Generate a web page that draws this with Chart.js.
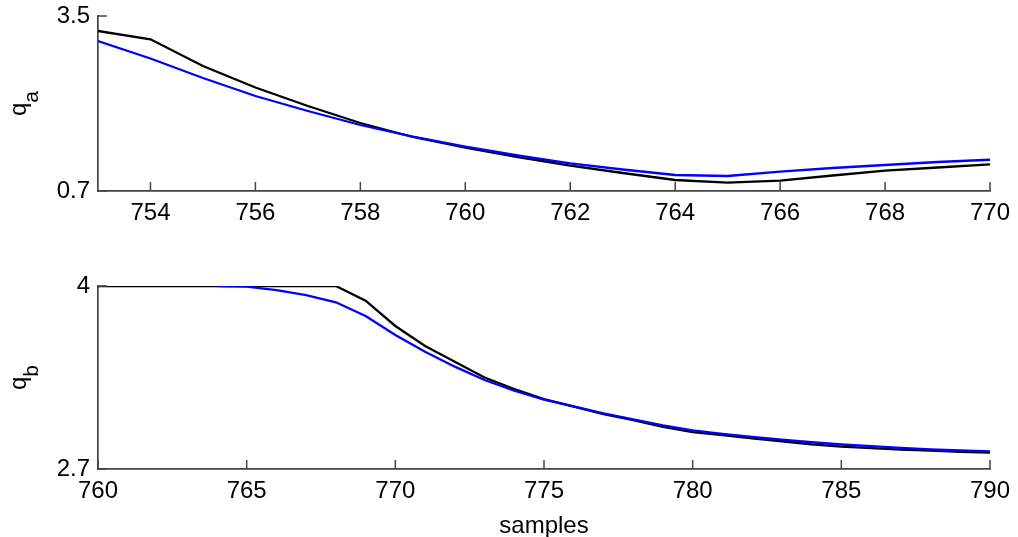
<!DOCTYPE html>
<html>
<head>
<meta charset="utf-8">
<script src="https://cdn.jsdelivr.net/npm/chart.js@4"></script>
<style>
  body { margin: 0; background: #fff; }
  .box { position: absolute; left: 0; width: 1018px; }
  #topBox { top: 0; height: 240px; }
  #botBox { top: 270px; height: 267px; }
</style>
</head>
<body>
<div class="box" id="topBox"><canvas id="topChart"></canvas></div>
<div class="box" id="botBox"><canvas id="botChart"></canvas></div>
<script>
// upper panel: q_a
var topSamples = [753, 754, 755, 756, 757, 758, 759, 760, 761, 762, 763, 764, 765, 766, 767, 768, 769, 770];
var topBlack = [3.26, 3.127, 2.70, 2.356, 2.06, 1.788, 1.564, 1.393, 1.244, 1.105, 0.988, 0.876, 0.833, 0.865, 0.948, 1.025, 1.076, 1.127];
var topBlue = [3.10, 2.82, 2.508, 2.22, 1.98, 1.756, 1.569, 1.409, 1.268, 1.143, 1.044, 0.956, 0.94, 1.009, 1.068, 1.116, 1.164, 1.20];
var topXTicks = [754, 756, 758, 760, 762, 764, 766, 768, 770];
var topYTicks = [0.7, 3.5];

// lower panel: q_b
var botSamples = [760, 761, 762, 763, 764, 765, 766, 767, 768, 769, 770, 771, 772, 773, 774, 775,
  776, 777, 778, 779, 780, 781, 782, 783, 784, 785, 786, 787, 788, 789, 790];
var botBlack = [4, 4, 4, 4, 4, 4, 4, 4, 4, 3.896, 3.716, 3.574, 3.462, 3.35, 3.268, 3.197,
  3.143, 3.09, 3.048, 3.0, 2.962, 2.94, 2.918, 2.897, 2.875, 2.859, 2.848, 2.838, 2.83, 2.822, 2.816];
var botBlue = [null, null, null, null, 4, 3.995, 3.97, 3.936, 3.884, 3.787, 3.652, 3.533, 3.427, 3.332, 3.256, 3.193,
  3.145, 3.095, 3.053, 3.01, 2.975, 2.95, 2.928, 2.908, 2.89, 2.874, 2.862, 2.85, 2.84, 2.832, 2.825];
var botXTicks = [760, 765, 770, 775, 780, 785, 790];
var botYTicks = [2.7, 4];

var FONT = 'Liberation Sans, Arial, Helvetica, sans-serif';
var AXIS = '#444444';

function pts(xs, ys) {
  return xs.map(function(x, i) { return { x: x, y: ys[i] }; });
}

function fixedTicks(list) {
  return function(scale) {
    scale.ticks = list.map(function(v) { return { value: v }; });
  };
}

function noPad(scale) {
  scale.paddingTop = 0;
  scale.paddingBottom = 0;
  scale.paddingLeft = 0;
  scale.paddingRight = 0;
}

// inward tick marks and the rotated y label with subscript
function decorPlugin(main, sub) {
  return {
    id: 'decor',
    afterDraw: function(chart) {
      var ctx = chart.ctx;
      var a = chart.chartArea;
      var xs = chart.scales.x, ys = chart.scales.y;
      ctx.save();
      ctx.strokeStyle = AXIS;
      ctx.lineWidth = 1.5;
      ctx.beginPath();
      xs.ticks.forEach(function(t) {
        var px = xs.getPixelForValue(t.value);
        ctx.moveTo(px, a.bottom);
        ctx.lineTo(px, a.bottom - 9);
      });
      ys.ticks.forEach(function(t) {
        var py = ys.getPixelForValue(t.value);
        ctx.moveTo(a.left, py);
        ctx.lineTo(a.left + 9, py);
      });
      ctx.stroke();

      var cy = (a.top + a.bottom) / 2;
      ctx.translate(26, cy);
      ctx.rotate(-Math.PI / 2);
      ctx.fillStyle = '#000';
      ctx.textBaseline = 'alphabetic';
      ctx.font = '24px ' + FONT;
      var w1 = ctx.measureText(main).width;
      ctx.font = '21px ' + FONT;
      var w2 = ctx.measureText(sub).width;
      var x0 = -(w1 + w2) / 2;
      ctx.font = '24px ' + FONT;
      ctx.fillText(main, x0, 0);
      ctx.font = '21px ' + FONT;
      ctx.fillText(sub, x0 + w1, 12);
      ctx.restore();
    }
  };
}

function makeChart(id, cfg) {
  return new Chart(document.getElementById(id), {
    type: 'line',
    data: {
      datasets: [
        { data: pts(cfg.samples, cfg.black), borderColor: '#000', borderWidth: 2.3, pointRadius: 0, tension: 0, spanGaps: false, order: 2 },
        { data: pts(cfg.samples, cfg.blue), borderColor: '#0000ff', borderWidth: 2.3, pointRadius: 0, tension: 0, spanGaps: false, order: 1 }
      ]
    },
    options: {
      responsive: true,
      maintainAspectRatio: false,
      animation: false,
      events: [],
      layout: { padding: { top: 16, right: 28, bottom: 0, left: 0 } },
      plugins: { legend: { display: false }, tooltip: { enabled: false } },
      scales: {
        x: {
          type: 'linear',
          min: cfg.xmin, max: cfg.xmax,
          afterBuildTicks: fixedTicks(cfg.xTicks),
          afterFit: function(scale) { scale.height = cfg.xHeight; noPad(scale); },
          grid: { display: true, drawOnChartArea: false, drawTicks: false },
          border: { color: AXIS, width: 1.7 },
          ticks: { color: '#000', padding: 8, maxRotation: 0, font: { family: FONT, size: 24 } },
          title: cfg.xTitle ? { display: true, text: cfg.xTitle, color: '#000', padding: { top: 0, bottom: -4 }, font: { family: FONT, size: 24 } } : { display: false }
        },
        y: {
          min: cfg.ymin, max: cfg.ymax,
          afterBuildTicks: fixedTicks(cfg.yTicks),
          afterFit: function(scale) { scale.width = 98; noPad(scale); },
          grid: { display: true, drawOnChartArea: false, drawTicks: false },
          border: { color: AXIS, width: 1.7 },
          ticks: { color: '#000', padding: 8, font: { family: FONT, size: 24 } }
        }
      }
    },
    plugins: [decorPlugin(cfg.main, cfg.sub)]
  });
}

makeChart('topChart', {
  samples: topSamples, black: topBlack, blue: topBlue,
  xmin: 753, xmax: 770, ymin: 0.7, ymax: 3.5,
  xTicks: topXTicks, yTicks: topYTicks, xHeight: 49,
  main: 'q', sub: 'a'
});

makeChart('botChart', {
  samples: botSamples, black: botBlack, blue: botBlue,
  xmin: 760, xmax: 790, ymin: 2.7, ymax: 4,
  xTicks: botXTicks, yTicks: botYTicks, xHeight: 68, xTitle: 'samples',
  main: 'q', sub: 'b'
});
</script>
</body>
</html>
